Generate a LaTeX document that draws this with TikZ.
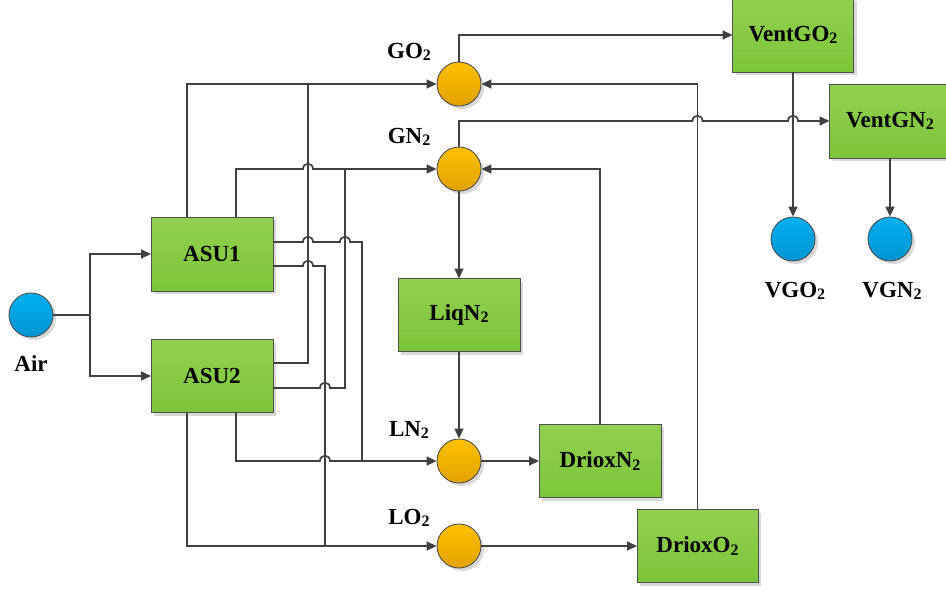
\documentclass[tikz,border=0pt]{standalone}
\usepackage{fontspec}
\setmainfont{Liberation Serif}
\usetikzlibrary{arrows.meta,shadows,calc}
\definecolor{linec}{HTML}{404040}
\definecolor{edgec}{HTML}{505050}
\definecolor{boxtop}{HTML}{92D050}
\definecolor{boxbot}{HTML}{7CC53A}
\definecolor{ortop}{HTML}{FFC000}
\definecolor{orbot}{HTML}{E2A200}
\definecolor{bltop}{HTML}{00B0F0}
\definecolor{blbot}{HTML}{0093D2}
\newcommand\subtwo[1]{\raisebox{-0.2ex}{\fontsize{16}{16}\selectfont #1}}
\newcommand\hjump[2]{-- (#1-5,#2) .. controls (#1-5,#2-7) and (#1+5,#2-7) .. (#1+5,#2)}
\begin{document}
\begin{tikzpicture}[x=1pt,y=-1pt,
  shadowed/.style={drop shadow={shadow xshift=3pt,shadow yshift=-3pt,fill=black!25,opacity=0.6}},
  box/.style={draw=edgec,line width=0.9pt,top color=boxtop,bottom color=boxbot,
    minimum width=122pt,minimum height=74pt,inner sep=0pt,outer sep=0pt,shadowed,
    font=\fontsize{23}{25}\selectfont\bfseries},
  orange/.style={circle,draw=edgec,line width=0.9pt,top color=ortop,bottom color=orbot,
    minimum size=44pt,inner sep=0pt,shadowed},
  blue/.style={circle,draw=edgec,line width=0.9pt,top color=bltop,bottom color=blbot,
    minimum size=44pt,inner sep=0pt,shadowed},
  lab/.style={inner sep=0pt,font=\fontsize{23}{25}\selectfont\bfseries},
  flow/.style={draw=linec,line width=1.7pt},
  arr/.style={flow,-{Triangle[length=10pt,width=9pt]}}]
\useasboundingbox (0,0) rectangle (946,590);

% nodes
\node[blue] (air) at (31,315) {};
\node[lab] (lair) at (31,364) {Air};
\node[box] (asu1) at (212,254) {ASU1};
\node[box,minimum height=73pt] (asu2) at (212,376) {ASU2};
\node[orange] (go2c) at (459,84) {};
\node[orange] (gn2c) at (459,169) {};
\node[orange] (ln2c) at (459,461) {};
\node[orange] (lo2c) at (459,546) {};
\node[lab] (lgo2) at (409,52) {GO\subtwo{2}};
\node[lab] (lgn2) at (409,137) {GN\subtwo{2}};
\node[lab] (lln2) at (409,430) {LN\subtwo{2}};
\node[lab] (llo2) at (409,518) {LO\subtwo{2}};
\node[box,minimum height=73pt] (liqn2) at (459,315) {LiqN\subtwo{2}};
\node[box,minimum height=73pt] (drioxn2) at (600,461) {DrioxN\subtwo{2}};
\node[box,minimum width=121pt,minimum height=73pt] (drioxo2) at (697.5,546) {DrioxO\subtwo{2}};
\node[box,minimum width=121pt] (ventgo2) at (793,35) {VentGO\subtwo{2}};
\node[box,minimum width=121pt] (ventgn2) at (890,121) {VentGN\subtwo{2}};
\node[blue] (vgo2) at (793,239) {};
\node[blue] (vgn2) at (890,239) {};
\node[lab] (lvgo2) at (795,291) {VGO\subtwo{2}};
\node[lab] (lvgn2) at (892,291) {VGN\subtwo{2}};

% connectors
\draw[flow] (air.east) -- (90,315) coordinate (split);
\draw[arr] (split) |- (asu1.west);
\draw[arr] (split) |- (asu2.west);

\draw[arr] ($(asu1.north west)+(36,0)$) |- (go2c.west);
\draw[arr] ($(asu1.north west)+(85,0)$) -- (236,169) \hjump{308}{169} -- (gn2c.west);
\draw[flow] ($(asu1.east)+(0,-12)$) \hjump{308}{242} \hjump{345}{242} -- (362,242) -- (362,461);
\draw[flow] ($(asu1.east)+(0,12)$) \hjump{308}{266} -- (325,266) -- (325,546);
\draw[flow] ($(asu2.east)+(0,-13)$) -- (308,363) -- (308,84);
\draw[flow] ($(asu2.east)+(0,12)$) \hjump{325}{388} -- (345,388) -- (345,169);
\draw[arr] ($(asu2.south west)+(85,0)$) -- (236,461) \hjump{325}{461} -- (ln2c.west);
\draw[arr] ($(asu2.south west)+(36,0)$) |- (lo2c.west);

\draw[arr] (go2c.north) |- (ventgo2.west);
\draw[arr] (gn2c.north) -- (459,121) \hjump{697.5}{121} \hjump{793}{121} -- (ventgn2.west);
\draw[arr] (ventgo2.south) -- (vgo2.north);
\draw[arr] (ventgn2.south) -- (vgn2.north);
\draw[arr] (drioxo2.north) |- (go2c.east);
\draw[arr] (drioxn2.north) |- (gn2c.east);
\draw[arr] (gn2c.south) -- (liqn2.north);
\draw[arr] (liqn2.south) -- (ln2c.north);
\draw[arr] (ln2c.east) -- (drioxn2.west);
\draw[arr] (lo2c.east) -- (drioxo2.west);
\end{tikzpicture}
\end{document}
